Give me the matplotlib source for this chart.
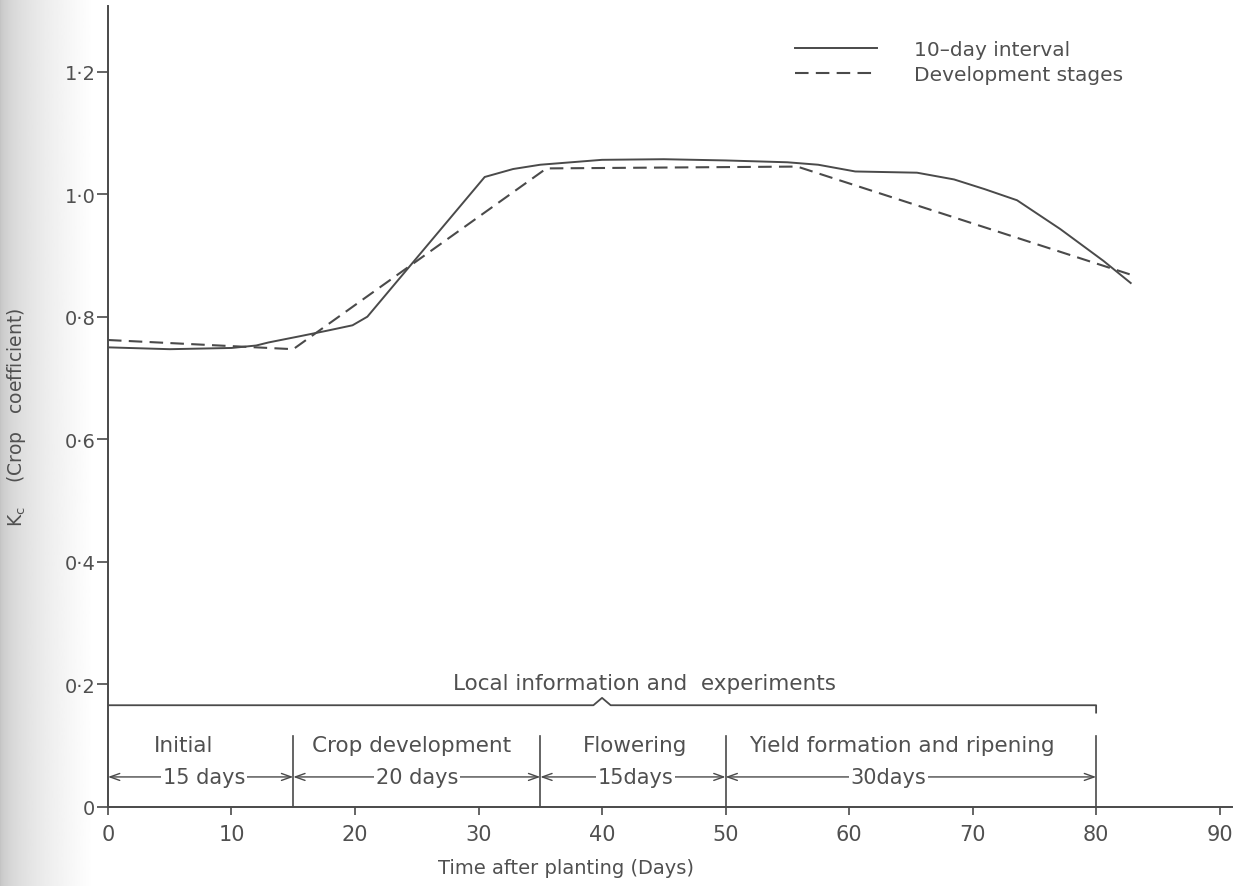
import numpy as np
import matplotlib.pyplot as plt

# Kc curve from 10-day interval observations
interval_days = [0, 5, 10, 12, 13, 15.5, 17.7, 19.8, 21, 30.5, 32.8, 35, 40, 45, 50,
                 55, 57.5, 60.5, 63, 65.5, 68.5, 71, 73.6, 77.1, 80.6, 82.8]
interval_kc = [0.750, 0.747, 0.749, 0.753, 0.758, 0.768, 0.777, 0.786, 0.800, 1.028,
               1.041, 1.048, 1.056, 1.057, 1.055, 1.052, 1.048, 1.037, 1.036, 1.035,
               1.024, 1.008, 0.990, 0.943, 0.891, 0.855]

# Kc curve built from development stages
stage_curve_days = [0, 15, 35.5, 55.8, 82.9]
stage_curve_kc = [0.762, 0.747, 1.042, 1.045, 0.868]

# growth stages and their lengths (days)
stage_names = ['Initial', 'Crop development', 'Flowering', 'Yield formation and ripening']
stage_lengths = [15, 20, 15, 30]
stage_length_labels = ['15 days', '20 days', '15days', '30days']

x_ticks = [0, 10, 20, 30, 40, 50, 60, 70, 80, 90]
y_ticks = [0, 0.2, 0.4, 0.6, 0.8, 1.0, 1.2]

# small nudges of the lettering away from the stage midpoints (days)
name_shift = [-1.4, -0.4, 0.2, -0.7]
length_shift = [0.3, 0.0, 0.2, -1.8]

ink = '#4a4a4a'
txt = '#505050'
plt.rcParams['font.family'] = ['DejaVu Sans']

fig = plt.figure(figsize=(12.51, 8.87), dpi=100)

# greyish shading along the left edge of the sheet
shade = fig.add_axes([0, 0, 0.075, 1], zorder=-5)
grad = np.linspace(0, 1, 200)
shade.imshow((0.76 + 0.24 * np.sqrt(grad))[None, :], cmap='gray', vmin=0, vmax=1,
             aspect='auto', extent=[0, 1, 0, 1])
shade.axis('off')

ax = fig.add_axes([0.0863, 0.0891, 0.8985, 0.903])
ax.patch.set_alpha(0)

ax.plot(interval_days, interval_kc, color=ink, lw=1.4, label='10\u2013day interval')
ax.plot(stage_curve_days, stage_curve_kc, color=ink, lw=1.5, linestyle=(0, (6.5, 3.5)),
        label='Development stages')

ax.set_xlim(0, 91)
ax.set_ylim(0, 1.307)
for side in ['top', 'right']:
    ax.spines[side].set_visible(False)
for side in ['left', 'bottom']:
    ax.spines[side].set_color(ink)
    ax.spines[side].set_linewidth(1.4)

ax.set_xticks(x_ticks)
ax.set_xticklabels([str(t) for t in x_ticks])
ax.set_yticks(y_ticks)
ax.set_yticklabels(['0' if v == 0 else f'{v:.1f}'.replace('.', '\u00b7') for v in y_ticks])
ax.tick_params(axis='x', direction='out', length=6, width=1.2, pad=6, colors=ink,
               labelsize=15, labelcolor=txt)
ax.tick_params(axis='y', direction='out', length=8, width=1.2, pad=1, colors=ink,
               labelsize=14, labelcolor=txt)

ax.text(-0.081, 0.487, 'K$_{\\mathregular{c}}$    (Crop   coefficient)', transform=ax.transAxes,
        rotation=90, ha='center', va='center', fontsize=13.5, color=txt)
ax.text(0.4075, -0.075, 'Time after planting (Days)', transform=ax.transAxes,
        ha='center', va='center', fontsize=14, color=txt)

leg = ax.legend(loc='upper left', bbox_to_anchor=(0.611, 0.957), frameon=False,
                handlelength=4.1, handletextpad=1.8, labelspacing=0.3, fontsize=14.5,
                borderpad=0, borderaxespad=0)
for t in leg.get_texts():
    t.set_color(txt)

# stage boundaries along the time axis
bounds = np.concatenate([[0], np.cumsum(stage_lengths)])
total = bounds[-1]

# bracket spanning the whole season
br_y = 0.166
ax.plot([0, total / 2 - 0.7, total / 2, total / 2 + 0.7, total, total],
        [br_y, br_y, br_y + 0.012, br_y, br_y, br_y - 0.012], color=ink, lw=1.3)
ax.text(total / 2 + 3.4, 0.203, 'Local information and  experiments', ha='center',
        va='center', fontsize=15.5, color=txt)

for b in bounds[1:]:
    ax.plot([b, b], [0, 0.116], color=ink, lw=1.2)

for i, name in enumerate(stage_names):
    mid = (bounds[i] + bounds[i + 1]) / 2
    ax.text(mid + name_shift[i], 0.101, name, ha='center', va='center', fontsize=15.5,
            color=txt)
    ax.annotate('', xy=(bounds[i + 1], 0.049), xytext=(bounds[i], 0.049),
                arrowprops=dict(arrowstyle='<->,head_length=0.7,head_width=0.25',
                                color=ink, lw=1.0, shrinkA=0, shrinkB=0))
    ax.text(mid + length_shift[i], 0.049, stage_length_labels[i], ha='center', va='center',
            fontsize=15, color=txt,
            bbox=dict(boxstyle='square,pad=0.08', fc='white', ec='none'))

fig.savefig('out.png', dpi=100)
